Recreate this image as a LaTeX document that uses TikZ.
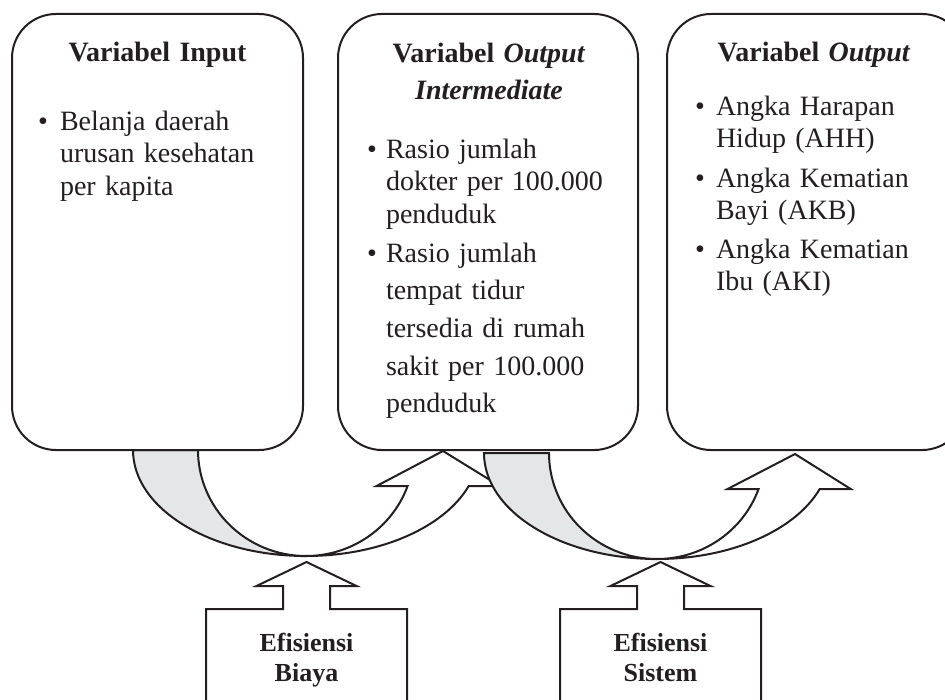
\documentclass[tikz,border=0pt]{standalone}
\usepackage{fontspec}
\setmainfont{Liberation Serif}
\usetikzlibrary{calc}
\definecolor{inkc}{RGB}{35,31,32}
\definecolor{bandgray}{RGB}{229,230,232}

\begin{document}
\begin{tikzpicture}[x=0.75pt,y=-0.75pt,line width=1.5pt,color=inkc,
  varbox/.style={draw,fill=white,rounded corners=33pt,inner sep=0pt},
  vartitle/.style={font=\fontsize{21}{27.75}\selectfont\bfseries,text width=210pt,align=center,inner sep=0pt,anchor=base},
  itemtext/.style={font=\fontsize{21}{24.4}\selectfont,text width=200pt,align=left,inner sep=0pt,anchor=base west},
  bul/.style={font=\fontsize{21}{24.4}\selectfont,inner sep=0pt,anchor=base},
  efftext/.style={font=\fontsize{19.5}{22.5}\selectfont\bfseries,text width=140pt,align=center,inner sep=0pt,anchor=base}]
\useasboundingbox (0,0) rectangle (945,699);
\clip (0,0) rectangle (945,699);
% curved arrows between the boxes
\foreach \cx/\yo/\px/\py in {306/450/443/451, 657/453/795/454}{
  \draw[fill=bandgray] (\cx-173,\yo) arc[start angle=180,end angle=90,x radius=173,y radius=106] arc[start angle=90,end angle=180,x radius=108,y radius=106] -- cycle;
  \draw[fill=white] (\cx,\yo+106) arc[start angle=90,end angle=19.86,x radius=173,y radius=106] -- ++(31,0) -- (\px,\py) -- (\cx+70.6,\yo+36) -- ++(31,0) arc[start angle=19.86,end angle=90,x radius=108,y radius=106] -- cycle;
}
% the three boxes
\node[varbox,minimum width=218.25pt,minimum height=327pt] (input) at (157.5,232) {};
\node[varbox,minimum width=225pt,minimum height=327pt] (inter) at (488,232) {};
\node[varbox,minimum width=224.25pt,minimum height=327pt] (output) at (816.5,232) {};
\node[vartitle] (tinput) at (157.5,62) {Variabel Input};
\node[vartitle] (tinter) at (489,63) {Variabel \textit{Output}\\\textit{Intermediate}};
\node[vartitle] (toutput) at (814,62) {Variabel \textit{Output}};
\foreach \x/\y/\n in {43/130/1,372/158/2,372/262/3,700/115/4,700/187/5,700/258/6}{\node[bul] (b\n) at (\x,\y) {\textbullet};}
\node[itemtext] (i1) at (59,130) {Belanja daerah\\urusan kesehatan\\per kapita};
\node[itemtext] (i2) at (385,158) {Rasio jumlah\\dokter per 100.000\\penduduk};
\node[itemtext,font=\fontsize{21}{28.3}\selectfont] (i3) at (385,262) {Rasio jumlah\\tempat tidur\\tersedia di rumah\\sakit per 100.000\\penduduk};
\node[itemtext] (i4) at (715,115) {Angka Harapan\\Hidup (AHH)};
\node[itemtext] (i5) at (715,187) {Angka Kematian\\Bayi (AKB)};
\node[itemtext] (i6) at (715,258) {Angka Kematian\\Ibu (AKI)};
% efficiency boxes with up arrows
\foreach \cx/\n/\s in {306.5/biaya/Biaya, 660.5/sistem/Sistem}{
  \draw (\cx-100.5,710) |- (\cx-23.5,609) |- (\cx-50,586) -- (\cx,562) -- (\cx+50,586) -| (\cx+23.5,609) -| (\cx+100.5,710);
  \node[efftext] (\n) at (\cx,651) {Efisiensi\\\s};
}
\end{tikzpicture}
\end{document}
